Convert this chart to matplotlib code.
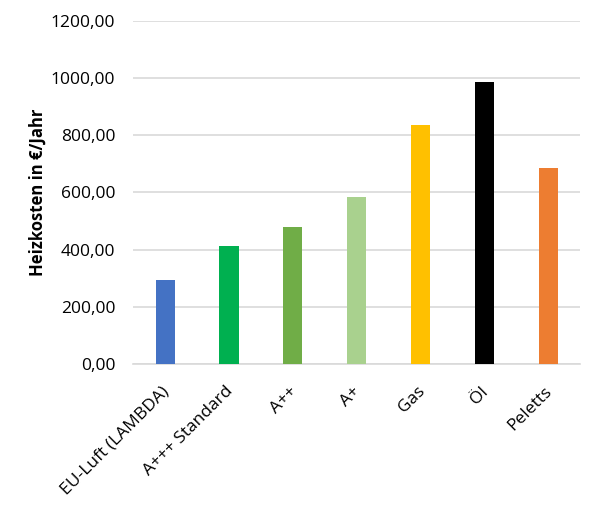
import matplotlib.pyplot as plt
import matplotlib.transforms as mtransforms
from matplotlib.ticker import FuncFormatter

kategooriad = ['EU-Luft (LAMBDA)', 'A+++ Standard', 'A++', 'A+', 'Gas', 'Öl', 'Peletts']
heizkosten = [293, 412, 479, 584, 834, 986, 686]
farben = ['#4472c4', '#00b050', '#70ad47', '#a9d18e', '#ffc000', '#000000', '#ed7d31']
y_ticks = [0, 200, 400, 600, 800, 1000, 1200]

plt.rcParams['font.family'] = ['Open Sans', 'DejaVu Sans']

fig = plt.figure(figsize=(6, 5.07), dpi=100)
ax = fig.add_axes([0.222, 0.282, 0.745, 0.677])
x = range(len(kategooriad))
ax.bar(x, heizkosten, width=0.30, color=farben, zorder=3)

ax.set_ylim(0, 1200)
ax.set_xlim(-0.5, len(kategooriad) - 0.5)
ax.set_yticks(y_ticks)
ax.yaxis.set_major_formatter(FuncFormatter(lambda v, p: f'{v:.2f}'.replace('.', ',')))
ax.grid(axis='y', color='#d9d9d9', linewidth=1.2, zorder=0)
ax.set_xticks(list(x))
ax.set_xticklabels(kategooriad, rotation=45, ha='right', rotation_mode='anchor')
ax.tick_params(axis='both', length=0, labelsize=12.5, colors='#000000')
ax.tick_params(axis='y', pad=13)
ax.tick_params(axis='x', pad=14)
# Beschriftungen etwas nach links schieben
verschiebung = mtransforms.ScaledTranslation(-4 / 100, 0, fig.dpi_scale_trans)
for lab in ax.get_xticklabels():
    lab.set_transform(lab.get_transform() + verschiebung)
for s in ['top', 'right', 'left']:
    ax.spines[s].set_visible(False)
ax.spines['bottom'].set_color('#d9d9d9')
ax.spines['bottom'].set_linewidth(1.2)
ax.set_ylabel('Heizkosten in €/Jahr', fontsize=12, fontweight='bold', labelpad=3)

fig.savefig('out.png', dpi=100, facecolor='white')
